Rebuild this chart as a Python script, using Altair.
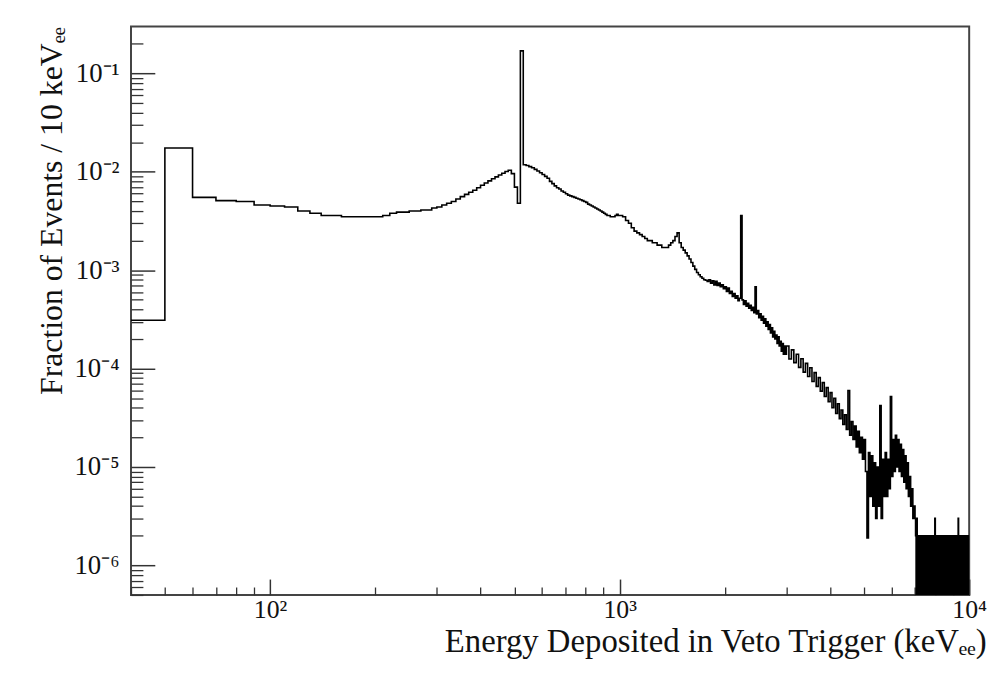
import math
import altair as alt
import pandas as pd

FONT = "Liberation Serif"

# ---------------- data (fraction of events per 10 keV) ----------------
# block 1: 10 keV bins starting at 40 keV
E_START_1, E_STEP_1 = 40, 10
frac_1 = [
    3.1e-4, 0.0175, 0.0055, 0.0051, 0.0050, 0.0046, 0.0045, 0.0044, 0.0040, 0.0038,
    0.0036, 0.0036, 0.0035, 0.0035, 0.0035, 0.0035, 0.0035, 0.0036, 0.0038, 0.0039,
    0.0039, 0.0040, 0.0040, 0.0041, 0.0041, 0.0043, 0.0044, 0.0046, 0.0048, 0.0050,
    0.0053, 0.0056, 0.0059, 0.0062, 0.0065, 0.0069, 0.0073, 0.0077, 0.0081, 0.0085,
    0.0089, 0.0093, 0.0097, 0.0101, 0.0104, 0.0096, 0.0070, 0.0048, 0.170, 0.0118,
    0.0116, 0.0113, 0.0110, 0.0106, 0.0102, 0.0098, 0.0094, 0.0090, 0.0086, 0.0080,
    0.0076, 0.0072, 0.0069, 0.0067, 0.0064, 0.0062, 0.0060, 0.0058, 0.0057, 0.0056,
    0.0055, 0.0054, 0.0053, 0.0052, 0.0051, 0.0050, 0.0049, 0.0047, 0.0046, 0.0045,
    0.0044, 0.0043, 0.0042, 0.0041, 0.0040, 0.0039, 0.0038, 0.0037, 0.0036, 0.0036,
    0.0035, 0.0035, 0.0035, 0.0036, 0.0037, 0.0036,
]
# block 2: 20 keV bins starting at 1000 keV
E_START_2, E_STEP_2 = 1000, 20
frac_2 = [
    0.0036, 0.0035, 0.0032, 0.0030, 0.0027, 0.0025, 0.0024, 0.0023, 0.0022, 0.0021,
    0.0020, 0.0020, 0.0019, 0.0019, 0.0018, 0.0018, 0.0017, 0.0017, 0.0017, 0.0018,
    0.0019, 0.0020, 0.0022, 0.0024, 0.0019, 0.0017, 0.0016, 0.0015, 0.0014, 0.0013,
    0.0012, 0.0011, 0.00102, 0.00095, 0.00090, 0.00086, 0.00083, 0.00080, 0.00079, 0.00077,
    0.00080, 0.00074, 0.00078, 0.00071, 0.00077, 0.00070, 0.00074, 0.00068, 0.00071, 0.00065,
    0.00068, 0.00061, 0.00066, 0.00058, 0.00061, 0.00054, 0.00058, 0.00052, 0.00055, 0.00049,
    0.00052, 0.0036, 0.00050, 0.00045, 0.00049, 0.00043, 0.00046, 0.00041, 0.00044, 0.00039,
    0.00042, 0.00037, 0.00068, 0.00036, 0.00039, 0.00033, 0.00036, 0.00031, 0.00034, 0.00029,
    0.00032, 0.00027, 0.00030, 0.00025, 0.00028, 0.00023, 0.00026, 0.00021, 0.00024, 0.00020,
    0.00022, 0.00018, 0.00021, 0.00017, 0.00019, 0.00015, 0.00018, 0.00014, 0.00017, 0.00014,
]
# block 3: 50 keV bins starting at 3000 keV
E_START_3, E_STEP_3 = 3000, 50
frac_3 = [
    1.70e-4, 1.25e-4, 1.55e-4, 1.15e-4, 1.40e-4, 1.03e-4, 1.26e-4, 9.2e-5, 1.13e-4, 8.3e-5,
    1.02e-4, 7.4e-5, 9.1e-5, 6.6e-5, 8.1e-5, 5.9e-5, 7.2e-5, 5.2e-5, 6.4e-5, 4.6e-5,
    5.7e-5, 4.0e-5, 5.0e-5, 3.5e-5, 4.4e-5, 3.1e-5, 3.8e-5, 2.7e-5, 3.4e-5, 2.4e-5,
    6.0e-5, 2.1e-5, 2.9e-5, 1.9e-5, 2.6e-5, 1.6e-5, 2.3e-5, 1.4e-5, 2.0e-5, 1.2e-5,
    1.9e-5, 9e-6, 1.9e-6, 1.4e-5, 5e-6, 1.3e-5, 4e-6, 1.1e-5, 3e-6, 1.0e-5,
    4e-6, 4.2e-5, 3e-6, 1.2e-5, 5e-6, 1.4e-5, 5e-6, 1.2e-5, 6e-6, 5.2e-5,
    8e-6, 1.9e-5, 9e-6, 2.1e-5, 1.0e-5, 1.9e-5, 9e-6, 1.7e-5, 8e-6, 1.5e-5,
    7e-6, 1.3e-5, 6e-6, 1.1e-5, 5e-6, 8e-6, 4e-6, 6e-6, 3e-6, 4e-6,
]
# block 4: 25 keV bins starting at 7000 keV (single-event counts)
E_START_4, E_STEP_4 = 7000, 25
frac_4 = [
    3e-6, 2e-6, 0, 3e-6, 0, 2e-6, 0, 2e-6, 1e-6, 0,
    2e-6, 0, 2e-6, 0, 1e-6, 0, 2e-6, 0, 2e-6, 0,
    1e-6, 2e-6, 1e-6, 0, 2e-6, 0, 2e-6, 0, 1e-6, 0,
    2e-6, 0, 1e-6, 2e-6, 1e-6, 0, 2e-6, 0, 2e-6, 3e-6,
    0, 2e-6, 0, 1e-6, 0, 2e-6, 0, 2e-6, 0, 1e-6,
    0, 2e-6, 0, 2e-6, 0, 1e-6, 0, 2e-6, 0, 2e-6,
    0, 1e-6, 0, 2e-6, 0, 2e-6, 0, 1e-6, 0, 2e-6,
    0, 2e-6, 0, 1e-6, 0, 2e-6, 0, 2e-6, 0, 1e-6,
    0, 2e-6, 0, 2e-6, 0, 1e-6, 0, 2e-6, 0, 2e-6,
    0, 1e-6, 3e-6, 0, 2e-6, 0, 2e-6, 0, 1e-6, 0,
    2e-6, 0, 2e-6, 0, 1e-6, 0, 2e-6, 0, 2e-6, 0,
    1e-6, 0, 2e-6, 0, 2e-6, 0, 1e-6, 0, 2e-6, 0,
]
E_END = 10000

x_domain = [40, 10000]
y_domain = [5e-7, 0.3]
x_tick_values = [100, 1000, 10000]
x_tick_labels = ["10²", "10³", "10⁴"]
y_tick_values = [1e-6, 1e-5, 1e-4, 1e-3, 1e-2, 1e-1]
y_tick_labels = ["10⁻⁶", "10⁻⁵", "10⁻⁴", "10⁻³", "10⁻²", "10⁻¹"]
x_title = "Energy Deposited in Veto Trigger (keVₑₑ)"
y_title = "Fraction of Events / 10 keVₑₑ"

# ---------------- table ----------------
rows = []
for start, step, vals in [(E_START_1, E_STEP_1, frac_1),
                          (E_START_2, E_STEP_2, frac_2),
                          (E_START_3, E_STEP_3, frac_3),
                          (E_START_4, E_STEP_4, frac_4)]:
    for i, v in enumerate(vals):
        rows.append({"E": start + i * step, "frac": v})
rows.append({"E": E_END, "frac": frac_4[-1]})
df = pd.DataFrame(rows)

x_minor = [m * 10 ** k for k in (1, 2, 3) for m in range(2, 10)
           if x_domain[0] <= m * 10 ** k <= x_domain[1]]
y_minor = [m * 10.0 ** k for k in range(-7, 0) for m in range(2, 10)
           if y_domain[0] <= m * 10.0 ** k <= y_domain[1]]


def label_expr(vals, labels):
    parts = [f"abs(log(datum.value)/LN10 - ({math.log10(v):.4f})) < 0.01 ? '{l}'"
             for v, l in zip(vals, labels)]
    return " : ".join(parts) + " : ''"


xscale = alt.Scale(type="log", domain=x_domain, nice=False)
yscale = alt.Scale(type="log", domain=y_domain, nice=False)

X_MAJ, X_MIN, Y_MAJ, Y_MIN = 16, 8, 24, 12
TXT = "#111"

x_major_axis = alt.Axis(
    orient="bottom", values=x_tick_values, labelExpr=label_expr(x_tick_values, x_tick_labels),
    tickSize=X_MAJ, offset=-X_MAJ, domain=False, grid=False, tickColor="#333", tickWidth=1.5,
    labelFont=FONT, labelFontSize=26, labelColor=TXT, labelPadding=2, labelFlush=False,
    title=x_title, titleFont=FONT, titleFontSize=33, titleFontWeight="normal", titleColor=TXT,
    titleAnchor="end", titleAlign="right", titleBaseline="alphabetic", titleX=862, titleY=73,
)
x_minor_axis = alt.Axis(
    orient="bottom", values=x_minor, labels=False, tickSize=X_MIN, offset=-X_MIN,
    domain=False, grid=False, tickColor="#333", tickWidth=1.3, title=None,
)
y_major_axis = alt.Axis(
    orient="left", values=y_tick_values, labelExpr=label_expr(y_tick_values, y_tick_labels),
    tickSize=Y_MAJ, offset=-Y_MAJ, domain=False, grid=False, tickColor="#333", tickWidth=1.5,
    labelFont=FONT, labelFontSize=27, labelColor=TXT, labelPadding=12, labelFlush=False,
    title=y_title, titleFont=FONT, titleFontSize=32, titleFontWeight="normal", titleColor=TXT,
    titleAnchor="end", titlePadding=6,
)
y_minor_axis = alt.Axis(
    orient="left", values=y_minor, labels=False, tickSize=Y_MIN, offset=-Y_MIN,
    domain=False, grid=False, tickColor="#333", tickWidth=1.3, title=None,
)

base = alt.Chart(df).transform_calculate(fplot="max(datum.frac, 1e-7)")

minor = base.mark_line(interpolate="step-after", strokeOpacity=0, clip=True).encode(
    x=alt.X("E:Q", scale=xscale, axis=x_minor_axis),
    y=alt.Y("fplot:Q", scale=yscale, axis=y_minor_axis),
)
line = base.mark_line(interpolate="step-after", color="black", strokeWidth=1.6, clip=True).encode(
    x=alt.X("E:Q", scale=xscale, axis=x_major_axis),
    y=alt.Y("fplot:Q", scale=yscale, axis=y_major_axis),
)

chart = (
    alt.layer(line, minor)
    .resolve_axis(x="independent", y="independent")
    .properties(
        width=845, height=573,
        autosize=alt.AutoSizeParams(type="none"),
        padding={"left": 124, "top": 16, "right": 22, "bottom": 80},
        background="white",
    )
    .configure_view(stroke="#444", strokeWidth=2)
)

chart.save("out.html", embed_options={"renderer": "svg", "actions": False})
